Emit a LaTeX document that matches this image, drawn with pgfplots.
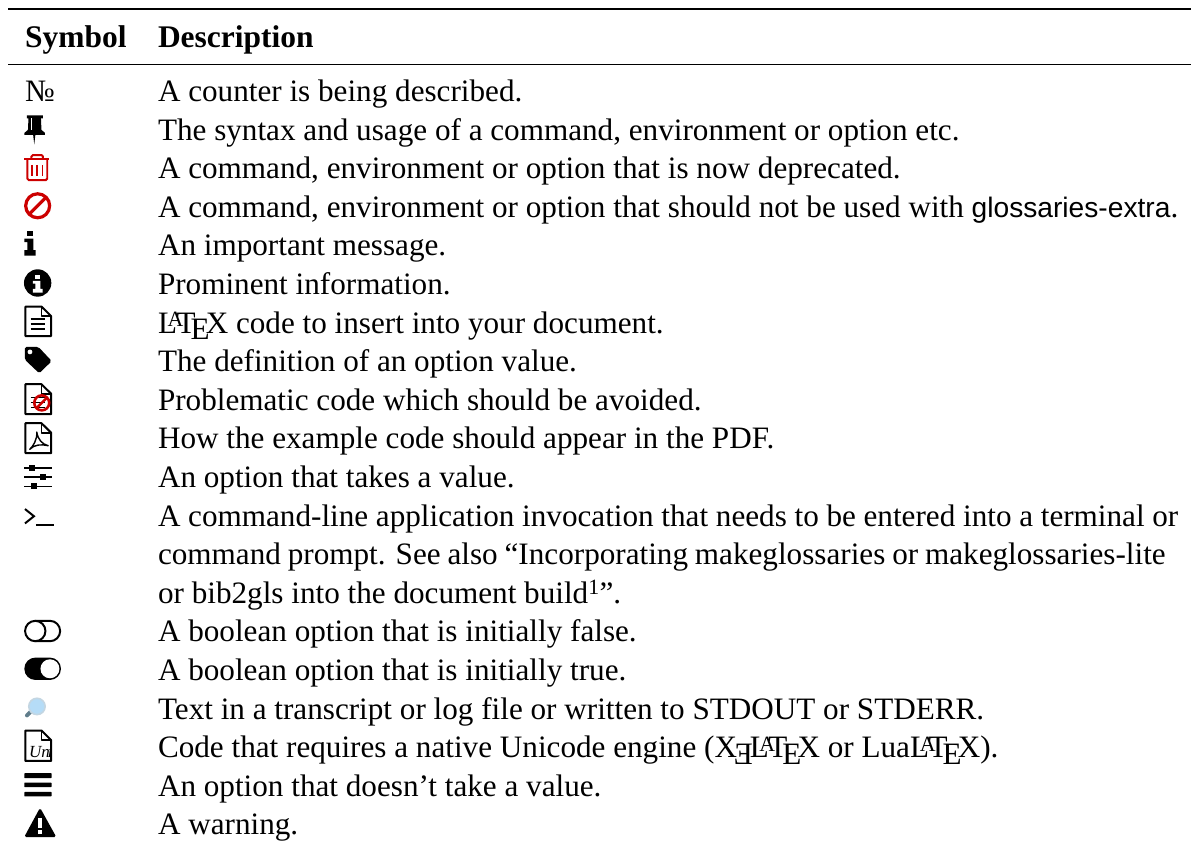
\documentclass[border=0pt]{standalone}
\usepackage{pgfplots}
\pgfplotsset{compat=1.18}
\usepackage{fontspec}
\setmainfont{Liberation Serif}
\newfontfamily\hv{Liberation Sans}
\definecolor{banred}{HTML}{CC0000}
\definecolor{lens}{HTML}{B5DCF7}
\definecolor{lensrim}{HTML}{C4D6E2}
\definecolor{handle}{HTML}{607D8B}
\newcommand{\LTX}{L\kern-.30em\raisebox{.2em}{\scalebox{.7}{A}}\kern-.22em T\kern-.16em\raisebox{-.22em}{E}\kern-.125em X}
\newcommand{\XeLogo}{X\kern-0.1em\raisebox{-0.22em}{\reflectbox{E}}\kern-0.1em\LTX}
\newcommand{\Row}[2]{\node[anchor=base west,inner sep=0pt,font=\fontsize{31.2}{36}\selectfont] at (158,#1) {#2};}
\begin{document}
\begin{tikzpicture}
\begin{axis}[
  scale only axis, width=1192pt, height=850pt,
  xmin=0, xmax=1192, ymin=0, ymax=850, y dir=reverse,
  hide axis, clip=false,
]
% rules
\addplot[black, line width=2.6pt] coordinates {(8.5,9) (1192,9)};
\addplot[black, line width=1.3pt] coordinates {(8.5,64.7) (1192,64.7)};
% header
\node[anchor=base west,inner sep=0pt,font=\fontsize{31.5}{36}\selectfont\bfseries] at (25,47.3) {Symbol};
\node[anchor=base west,inner sep=0pt,font=\fontsize{31.5}{36}\selectfont\bfseries] at (158,47.3) {Description};
% text
\Row{101.7}{A counter is being described.}
\Row{140.3}{The syntax and usage of a command, environment or option etc.}
\Row{179.0}{A command, environment or option that is now deprecated.}
\Row{217.6}{A command, environment or option that should not be used with {\hv\fontsize{28.2}{36}\selectfont glossaries-extra}.}
\Row{256.2}{An important message.}
\Row{294.9}{Prominent information.}
\Row{333.5}{\LTX{} code to insert into your document.}
\Row{372.1}{The definition of an option value.}
\Row{410.7}{Problematic code which should be avoided.}
\Row{449.4}{How the example code should appear in the PDF.}
\Row{488.0}{An option that takes a value.}
\Row{526.6}{\makebox[1021.3pt][s]{A command-line application invocation that needs to be entered into a terminal or}}
\Row{565.3}{\makebox[1008.7pt][s]{command prompt. See also “Incorporating makeglossaries or makeglossaries-lite}}
\Row{603.9}{or bib2gls into the document build\textsuperscript{1}”.}
\Row{642.5}{A boolean option that is initially false.}
\Row{681.2}{A boolean option that is initially true.}
\Row{719.8}{Text in a transcript or log file or written to STDOUT or STDERR.}
\Row{758.4}{Code that requires a native Unicode engine (\XeLogo{} or Lua\LTX).}
\Row{797.0}{An option that doesn’t take a value.}
\Row{835.7}{A warning.}
% No
\node[anchor=base west,inner sep=0pt,font=\fontsize{31.2}{36}\selectfont] at (25,101.7) {№};
% pin
\fill (27,115.5) -- (43,115.5) -- (43,118.5) -- (41,118.5) -- (41.5,130) -- (45,133) -- (45,135) -- (35.4,135) -- (34.3,144.5) -- (33.2,135) -- (24.5,135) -- (24.5,133) -- (28,130) -- (28.5,118.5) -- (27,118.5) -- cycle;
\fill[white] (31,118.5) rectangle (32.3,130);
% trash
\draw[banred,line width=2pt,rounded corners=1.5pt] (31.5,159) -- (31.5,155.2) -- (43,155.2) -- (43,159);
\draw[banred,line width=2pt] (24.5,159.6) -- (49.5,159.6);
\draw[banred,line width=2pt,rounded corners=1.5pt] (27.3,160) -- (27.3,180.3) -- (47.3,180.3) -- (47.3,160);
\draw[banred,line width=1.7pt] (32,165) -- (32,176) (37.3,165) -- (37.3,176) (42.6,165) -- (42.6,176);
% ban
\draw[banred,line width=3.2pt] (37.7,206) circle[radius=12pt];
\draw[banred,line width=3.2pt] (29.5,214.2) -- (45.9,197.8);
% i
\fill (27.3,231) rectangle (33.3,236.7);
\fill (24.3,239) -- (33.3,239) -- (33.3,250.5) -- (35.7,250.5) -- (35.7,256) -- (24.3,256) -- (24.3,250.5) -- (27.3,250.5) -- (27.3,242.5) -- (24.3,242.5) -- cycle;
% info circle
\fill (37.7,283.3) circle[radius=13.7pt];
\fill[white] (35.3,275) rectangle (40.5,279.3);
\fill[white] (32.8,281.2) -- (40.5,281.2) -- (40.5,289.3) -- (42.7,289.3) -- (42.7,293) -- (32.8,293) -- (32.8,289.3) -- (35.3,289.3) -- (35.3,284) -- (32.8,284) -- cycle;
% file
\draw[line width=2pt,line join=round] (41.5,306.9) -- (25.5,306.9) -- (25.5,336.4) -- (51.2,336.4) -- (51.2,316.5) -- cycle;
\draw[line width=1.6pt,line join=round] (41.5,306.9) -- (41.5,316.5) -- (51.2,316.5);
\draw[line width=1.7pt] (30.7,319.3) -- (45,319.3) (30.7,324.3) -- (45,324.3) (30.7,329.3) -- (45,329.3);
% tag
\fill[rounded corners=1.8pt] (24.8,347.3) -- (38.5,347.3) -- (51.8,361.5) -- (39.3,373.7) -- (24.8,360) -- cycle;
\fill[white] (30,352.3) circle[radius=2.4pt];
% problem file
\draw[line width=2pt,line join=round] (41.5,384.6) -- (25.5,384.6) -- (25.5,414.6) -- (51.2,414.6) -- (51.2,394.2) -- cycle;
\draw[line width=1.6pt,line join=round] (41.5,384.6) -- (41.5,394.2) -- (51.2,394.2);
\draw[line width=1.7pt] (30.7,398) -- (45,398) (30.7,403) -- (45,403) (30.7,408) -- (45,408);
\draw[banred,line width=2.6pt] (41.8,403.3) circle[radius=7.5pt];
\draw[banred,line width=2.6pt] (36.5,408.6) -- (47.1,398);
% pdf file
\draw[line width=2pt,line join=round] (41.5,423.6) -- (25.5,423.6) -- (25.5,453.6) -- (51.2,453.6) -- (51.2,433.2) -- cycle;
\draw[line width=1.6pt,line join=round] (41.5,423.6) -- (41.5,433.2) -- (51.2,433.2);
\draw[line width=1.4pt,line join=round] (29.8,449.8) .. controls (33,447) and (37.5,440) .. (36.8,432.5) .. controls (38,440) and (42,444.5) .. (48.2,446.2) .. controls (42,444.5) and (34,445) .. (29.8,449.8) -- cycle;
% sliders
\draw[line width=1.6pt] (24.3,468.3) -- (51.7,468.3) (24.3,477.7) -- (51.7,477.7) (24.3,487) -- (51.7,487);
\fill (28.7,465.3) rectangle (34.7,471.3);
\fill (40.3,474.7) rectangle (46.3,480.7);
\fill (31.3,484) rectangle (37.3,490);
% prompt
\draw[line width=2pt,line join=miter] (25,509.6) -- (34,516.8) -- (25,524);
\draw[line width=2pt] (36,525.7) -- (54,525.7);
% toggle false
\draw[line width=2pt] (35.3,621.5) -- (50,621.5) arc[start angle=90,end angle=-90,radius=10.2pt] -- (35.3,641.9);
\draw[line width=2pt] (35.3,631.7) circle[radius=10.2pt];
% toggle true
\fill[rounded corners=11pt] (24.4,658.3) rectangle (61,680.7);
\fill[white] (50,669.5) circle[radius=9.5pt];
% magnifier
\draw[handle,line width=4pt,line cap=round] (27,716.2) -- (31.5,711.7);
\draw[lensrim,line width=1.6pt,fill=lens] (37,707.2) circle[radius=8.2pt];
% unicode file
\draw[line width=2pt,line join=round] (41.5,731.3) -- (25.5,731.3) -- (25.5,761.8) -- (51.2,761.8) -- (51.2,741) -- cycle;
\draw[line width=1.6pt,line join=round] (41.5,731.3) -- (41.5,741) -- (51.2,741);
\node[anchor=base west,inner sep=0pt,font=\fontsize{17}{18}\selectfont\itshape] at (29,758) {Un};
\node[anchor=base west,inner sep=0pt,font=\fontsize{17}{18}\selectfont\itshape] at (47.8,758) {\vphantom{U}ı};
% hamburger
\fill[rounded corners=0.6pt] (24.3,774) rectangle (51.7,779);
\fill[rounded corners=0.6pt] (24.3,783.4) rectangle (51.7,788);
\fill[rounded corners=0.6pt] (24.3,792.8) rectangle (51.7,797.3);
% warning
\fill[rounded corners=1.8pt] (40.1,808.6) -- (56.4,838) -- (24.2,838) -- cycle;
\fill[white] (37.6,819) rectangle (42.4,829);
\fill[white] (37.6,831) rectangle (42.4,834.8);
% page box
\path (0,0) -- (1192,850);
\end{axis}
\end{tikzpicture}
\end{document}
